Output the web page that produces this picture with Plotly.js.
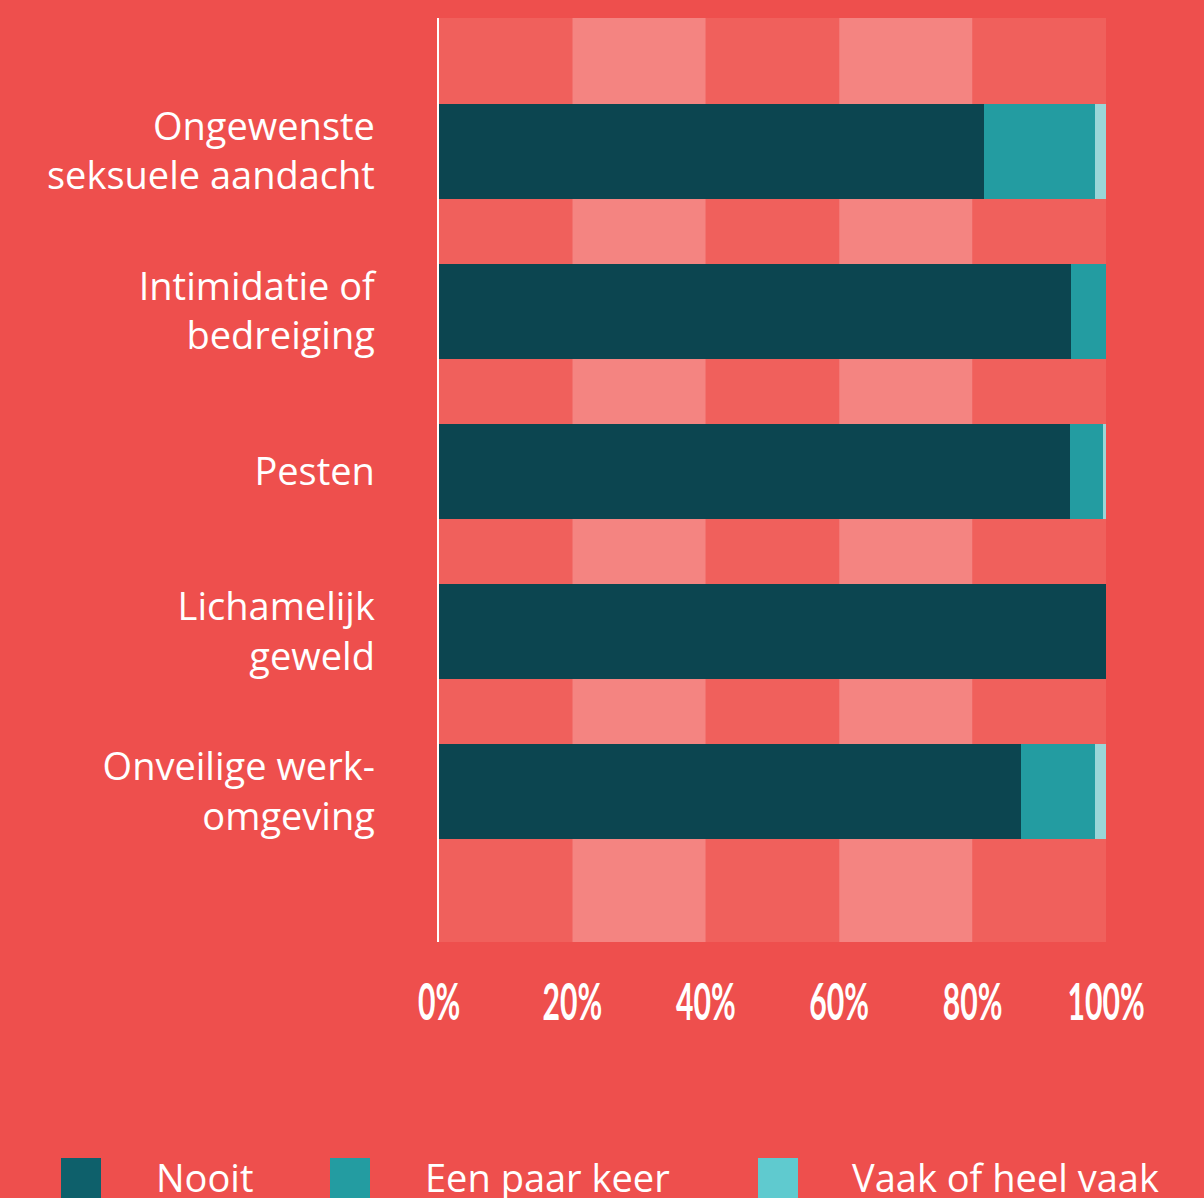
<!DOCTYPE html>
<html>
<head>
<meta charset="utf-8">
<script src="https://cdn.plot.ly/plotly-3.0.1.min.js"></script>
<style>
html,body{margin:0;padding:0;background:#EE4F4D;}
#chart{width:1204px;height:1198px;}
</style>
</head>
<body>
<div id="chart"></div>
<script>
// ---- data ----
const categories = [
  "Ongewenste<br>seksuele aandacht",
  "Intimidatie of<br>bedreiging",
  "Pesten",
  "Lichamelijk<br>geweld",
  "Onveilige werk-<br>omgeving"
];
const seriesNames = ["Nooit", "Een paar keer", "Vaak of heel vaak"];
const nooit = [81.7, 94.75, 94.6, 100, 87.3];
const eenPaarKeer = [16.6, 5.25, 4.95, 0, 11.1];
const vaak = [1.7, 0, 0.45, 0, 1.6];
const tickValues = [0, 20, 40, 60, 80, 100];
const tickLabels = ["0%", "20%", "40%", "60%", "80%", "100%"];
const bandEdges = [0, 20, 40, 60, 80, 100];

// ---- styles ----
const barColors = ["#0C4550", "#239CA1", "#9AD6D8"];
const legendColors = ["#0E606B", "#239CA1", "#5FCACF"];
const bandColors = ["#F0605C", "#F48481"];
const bg = "#EE4F4D";
const textFont = "'Open Sans', Lato, sans-serif";

const seriesValues = [nooit, eenPaarKeer, vaak];
const traces = seriesValues.map((vals, i) => ({
  type: "bar",
  orientation: "h",
  name: seriesNames[i],
  x: vals,
  y: categories,
  marker: {color: barColors[i], line: {width: 0}},
  width: 0.594,
  hoverinfo: "skip",
  showlegend: false
}));

// plot area geometry (px) for paper conversion of legend
const L = 439, R = 1106, T = 18, B = 942;
const px = x => (x - L) / (R - L);
const py = y => (B - y) / (B - T);

const shapes = [];
for (let i = 0; i < bandEdges.length - 1; i++) {
  shapes.push({
    type: "rect", xref: "x", yref: "paper",
    x0: bandEdges[i], x1: bandEdges[i + 1], y0: 0, y1: 1,
    fillcolor: bandColors[i % 2], line: {width: 0}, layer: "below"
  });
}
const legendSquareX = [61, 330, 758];
const legendTextX = [157, 426, 853];
const annotations = [];
seriesNames.forEach((n, i) => {
  shapes.push({
    type: "rect", xref: "paper", yref: "paper",
    x0: px(legendSquareX[i]), x1: px(legendSquareX[i] + 40),
    y0: py(1215), y1: py(1158),
    fillcolor: legendColors[i], line: {width: 0}, layer: "above"
  });
  annotations.push({
    xref: "paper", yref: "paper",
    x: px(legendTextX[i] - 3), y: py(1177),
    xanchor: "left", yanchor: "middle",
    text: n, showarrow: false,
    font: {family: textFont, size: 38, color: "#ffffff"}
  });
});

const layout = {
  width: 1204, height: 1198,
  paper_bgcolor: bg, plot_bgcolor: bg,
  margin: {l: L, r: 1204 - R, t: T, b: 1198 - B, pad: 0},
  barmode: "stack",
  bargap: 0,
  showlegend: false,
  xaxis: {
    range: [0, 100], fixedrange: true,
    tickvals: tickValues, ticktext: tickLabels,
    showgrid: false, zeroline: false, showline: false, ticks: "",
    ticklabelstandoff: 25,
    tickfont: {family: "Lato, sans-serif", size: 52, color: "#ffffff", weight: "bold"}
  },
  yaxis: {
    type: "category",
    categoryorder: "array", categoryarray: categories,
    range: [4.94, -0.834], autorange: false, fixedrange: true,
    showgrid: false, zeroline: false,
    showline: true, linecolor: "#ffffff", linewidth: 2.5,
    ticks: "", ticklabelstandoff: 54,
    tickfont: {family: textFont, size: 38, color: "#ffffff"}
  },
  shapes: shapes,
  annotations: annotations
};

Plotly.newPlot("chart", traces, layout, {displayModeBar: false, staticPlot: true}).then(() => {
  // condense the percentage tick labels horizontally (the reference uses a narrow display face)
  document.querySelectorAll("#chart .xtick text").forEach(t => {
    const tr = t.getAttribute("transform") || "";
    t.setAttribute("transform", tr + " scale(0.58,1)");
  });
});
</script>
</body>
</html>
